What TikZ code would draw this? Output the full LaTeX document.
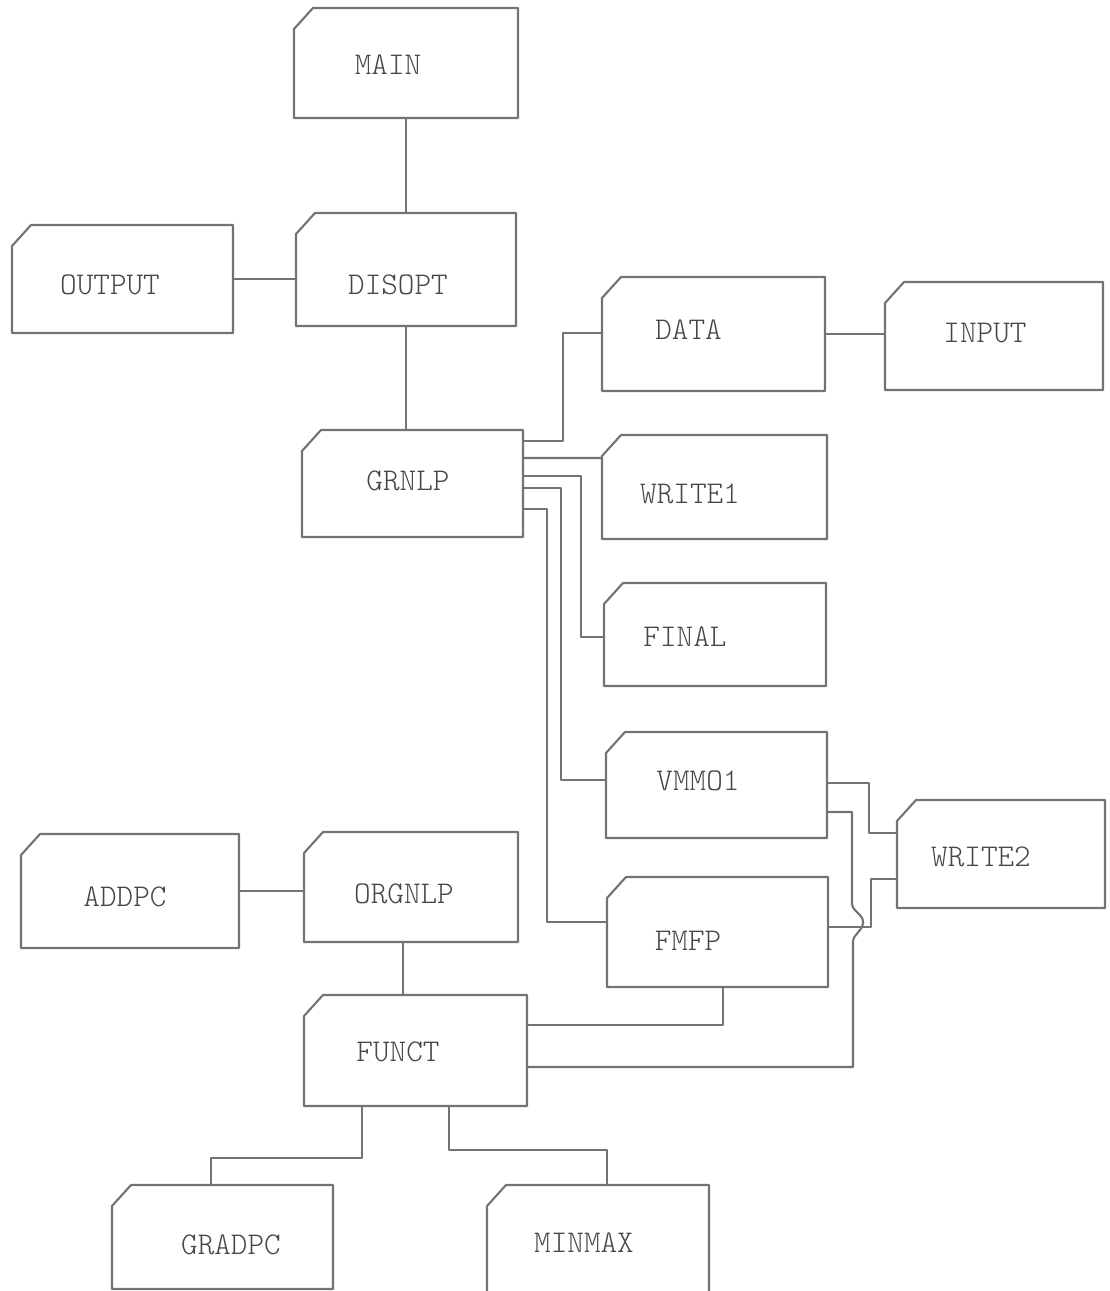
\documentclass[tikz,border=0pt]{standalone}
\usetikzlibrary{calc}

% place a label inside its box, nudged by (dx, raise)
\newcommand\tshift[3]{\kern#1mm\raisebox{#2mm}[\height][\depth]{#3}\kern-#1mm\relax}

\begin{document}
\begin{tikzpicture}[
    x=0.1mm, y=-0.1mm,
    ink/.style={draw=black!55, line width=0.6pt, line join=round, line cap=round},
    prog/.style={rectangle, inner sep=0pt, outer sep=0pt, text=black!72,
                 font=\fontsize{9}{11}\fontseries{l}\ttfamily\selectfont},
    sz/.style 2 args={minimum width=#1mm, minimum height=#2mm},
    wire/.style={ink},
  ]
  \fill[white] (0,0) rectangle (1110,1291);
  \clip (0,0) rectangle (1110,1291);

  % program modules
  \node[prog, sz={22.4}{11.0}] (main)   at (406,63)     {\tshift{-1.8}{-0.2}{MAIN}};
  \node[prog, sz={22.0}{11.3}] (disopt) at (406,269.5)  {\tshift{-0.8}{-1.55}{DISOPT}};
  \node[prog, sz={22.1}{10.8}] (output) at (122.5,279)  {\tshift{-1.25}{-0.6}{OUTPUT}};
  \node[prog, sz={22.1}{10.7}] (grnlp)  at (412.5,483.5){\tshift{-0.45}{0.25}{GRNLP}};
  \node[prog, sz={22.3}{11.4}] (data)   at (713.5,334)  {\tshift{-2.5}{0.4}{DATA}};
  \node[prog, sz={21.8}{10.8}] (input)  at (994,336)    {\tshift{-0.9}{0.3}{INPUT}};
  \node[prog, sz={22.5}{10.4}] (write1) at (714.5,487)  {\tshift{-2.45}{-0.7}{WRITE1}};
  \node[prog, sz={22.2}{10.3}] (final)  at (715,634.5)  {\tshift{-3.0}{-0.25}{FINAL}};
  \node[prog, sz={22.1}{10.6}] (vmmo)   at (716.5,785)  {\tshift{-1.85}{0.4}{VMMO1}};
  \node[prog, sz={20.8}{10.8}] (write2) at (1001,854)   {\tshift{-2.0}{-0.3}{WRITE2}};
  \node[prog, sz={22.1}{11.0}] (fmfp)   at (717.5,932)  {\tshift{-2.95}{-0.9}{FMFP}};
  \node[prog, sz={21.8}{11.4}] (addpc)  at (130,891)    {\tshift{-0.5}{-0.6}{ADDPC}};
  \node[prog, sz={21.4}{11.0}] (orgnlp) at (411,887)    {\tshift{-0.7}{-0.7}{ORGNLP}};
  \node[prog, sz={22.3}{11.1}] (funct)  at (415.5,1050.5){\tshift{-1.75}{-0.15}{FUNCT}};
  \node[prog, sz={22.1}{10.4}] (gradpc) at (222.5,1237) {\tshift{0.85}{-0.8}{GRADPC}};
  \node[prog, sz={22.2}{12.5}] (minmax) at (598,1247.5) {\tshift{-1.4}{0.45}{MINMAX}};

  % card outlines with the clipped upper left corner
  \foreach \n in {main,disopt,output,grnlp,data,input,write1,final,vmmo,write2,fmfp,addpc,orgnlp,funct,gradpc,minmax}
    \draw[ink] ($(\n.north west)+(0,21)$) -- ($(\n.north west)+(19,0)$)
               -- (\n.north east) -- (\n.south east) -- (\n.south west) -- cycle;

  % calling structure
  \draw[wire] (main.south) -- (main.south |- disopt.north);
  \draw[wire] (output.east) -- (output.east -| disopt.west);
  \draw[wire] (disopt.south) -- (disopt.south |- grnlp.north);
  \draw[wire] (data.east) -- (data.east -| input.west);

  \draw[wire] ($(grnlp.north east)+(0,11)$) -- ++(40,0) |- ($(data.north west)+(0,56)$);
  \draw[wire] ($(grnlp.north east)+(0,28)$) -- ($(write1.north west)+(0,23)$);
  \draw[wire] ($(grnlp.north east)+(0,46)$) -- ++(58,0) |- ($(final.north west)+(0,54)$);
  \draw[wire] ($(grnlp.north east)+(0,58)$) -- ++(38,0) |- ($(vmmo.north west)+(0,48)$);
  \draw[wire] ($(grnlp.north east)+(0,79)$) -- ++(24,0) |- ($(fmfp.north west)+(0,45)$);

  \draw[wire] ($(vmmo.north east)+(0,51)$) -- ++(42,0) |- ($(write2.north west)+(0,33)$);
  \draw[wire] ($(write2.north west)+(0,79)$) -- ++(-26,0) |- ($(fmfp.north east)+(0,50)$);
  % VMMO1 to FUNCT, hopping over the FMFP--WRITE2 line
  \draw[wire] ($(vmmo.north east)+(0,80)$) -- ++(25,0)
              -- ++(0,91) .. controls ++(0,9) and ++(1,-9) .. ++(11,20)
              .. controls ++(-1,9) and ++(0,-8) .. ++(-10,19)
              |- ($(funct.north east)+(0,72)$);
  \draw[wire] ($(fmfp.south west)+(116,0)$) |- ($(funct.north east)+(0,30)$);

  \draw[wire] (addpc.east) -- (addpc.east -| orgnlp.west);
  \draw[wire] ($(orgnlp.south west)+(99,0)$) coordinate (og) -- (og |- funct.north);
  \draw[wire] ($(funct.south west)+(58,0)$) -- ++(0,52) -| ($(gradpc.north west)+(99,0)$);
  \draw[wire] ($(funct.south west)+(145,0)$) -- ++(0,44) -| ($(minmax.north west)+(120,0)$);
\end{tikzpicture}
\end{document}
